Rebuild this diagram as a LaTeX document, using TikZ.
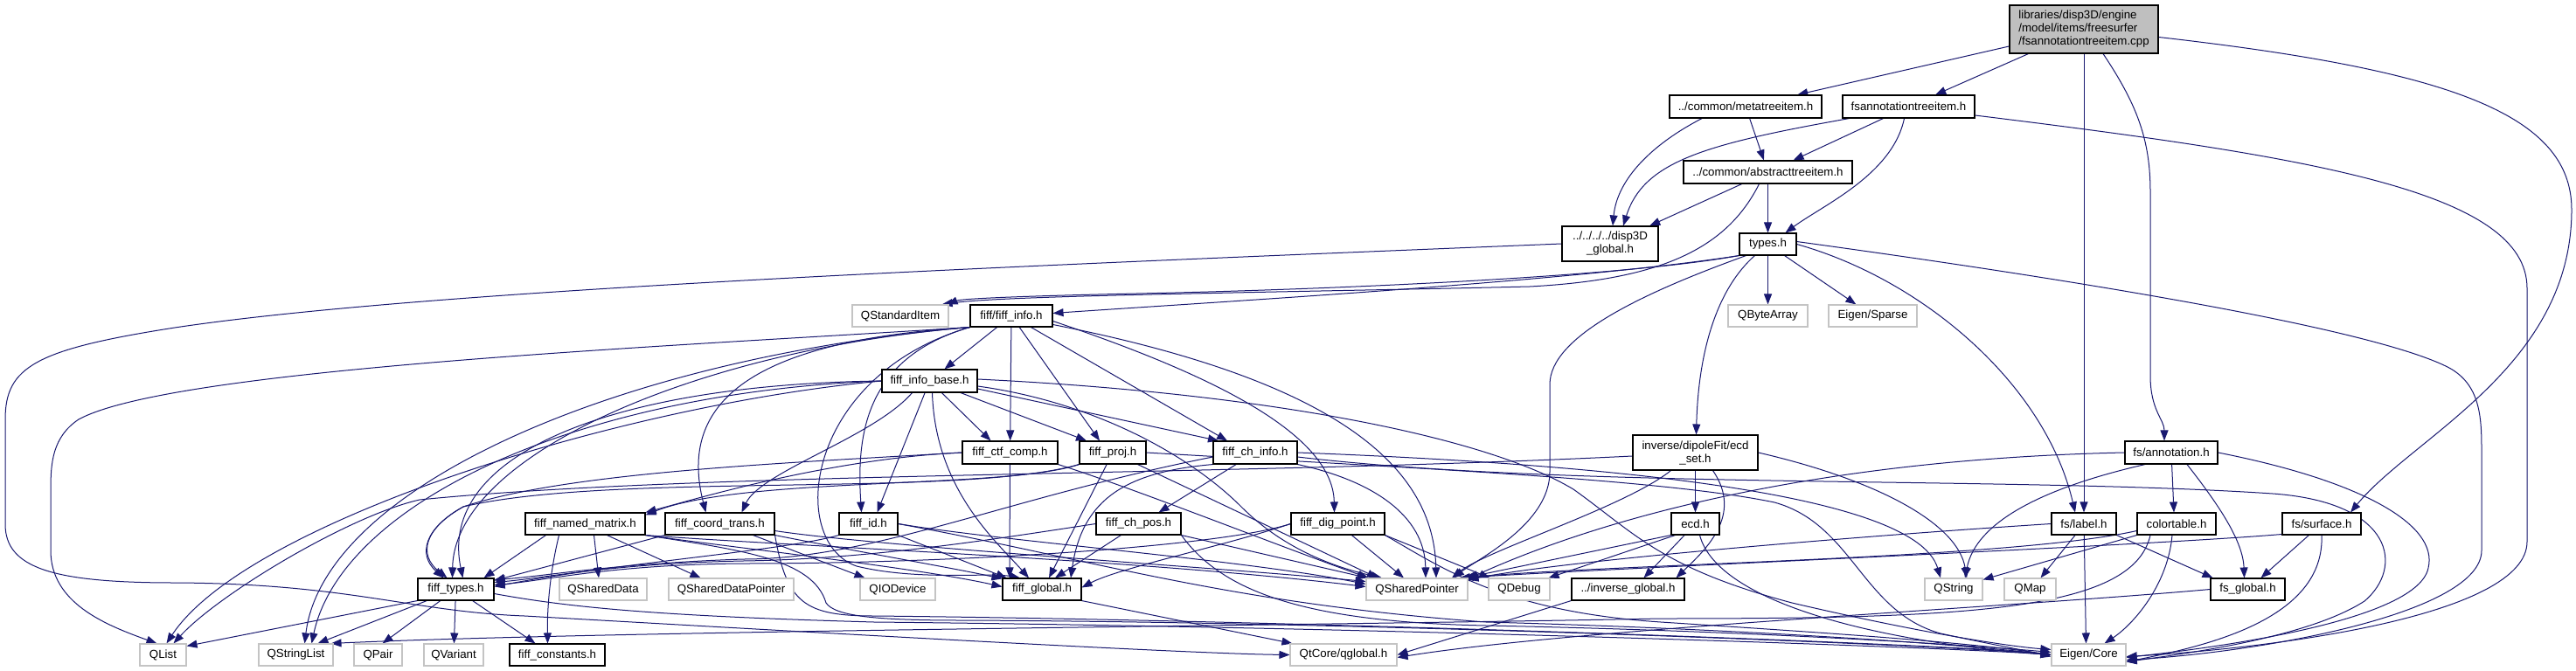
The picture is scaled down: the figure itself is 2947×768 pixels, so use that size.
\documentclass[tikz,border=0pt]{standalone}
\usepackage{fontspec}
\setmainfont{Liberation Sans}
\usetikzlibrary{arrows.meta}
\definecolor{edgeblue}{HTML}{191970}
\definecolor{rootgray}{HTML}{BFBFBF}
\definecolor{extgray}{HTML}{C4C4C4}
\pgfdeclarelayer{bg}
\pgfsetlayers{bg,main}
\newcommand\nfont{\fontsize{13.3}{15}\selectfont}
\newcommand\mkbox[7]{\node[#7, minimum width={#4-#2}, minimum height={#5-#3}] (#1) at ({(#2+#4)/2},{(#3+#5)/2}) {#6};}
\tikzset{
 bx/.style={draw=black, line width=1.1pt, fill=white, inner sep=0pt, font=\nfont, align=center},
 gx/.style={draw=extgray, line width=1.1pt, fill=white, inner sep=0pt, font=\nfont, align=center},
 rx/.style={draw=black, line width=1.1pt, fill=rootgray, inner sep=0pt, font=\nfont, align=left},
 lk/.style={draw=edgeblue, line width=1pt, -{Triangle[length=12pt,width=9pt]}},
}
\begin{document}
\begin{tikzpicture}[x=1pt,y=-1pt]
\useasboundingbox (0,0) rectangle (2947,768);
\begin{pgfonlayer}{bg}
\fill[white] (0,0) rectangle (2947,768);
\end{pgfonlayer}
% ---------- nodes ----------
\mkbox{root}{2299}{6}{2469}{61}{libraries/disp3D/engine\\/model/items/freesurfer\\/fsannotationtreeitem.cpp}{rx}
\mkbox{meta}{1910}{109}{2084}{135}{../common/metatreeitem.h}{bx}
\mkbox{fsat}{2108}{109}{2259}{135}{fsannotationtreeitem.h}{bx}
\mkbox{abst}{1926}{184}{2119}{210}{../common/abstracttreeitem.h}{bx}
\mkbox{d3g}{1787}{259}{1897}{299}{../../../../disp3D\\\_global.h}{bx}
\mkbox{types}{1990}{267}{2055}{292}{types.h}{bx}
\mkbox{qsi}{975}{349}{1085}{374}{QStandardItem}{gx}
\mkbox{finfo}{1110}{349}{1204}{374}{fiff/fiff\_info.h}{bx}
\mkbox{qba}{1977}{349}{2068}{374}{QByteArray}{gx}
\mkbox{esp}{2092}{349}{2193}{374}{Eigen/Sparse}{gx}
\mkbox{fib}{1009}{423}{1118}{449}{fiff\_info\_base.h}{bx}
\mkbox{ctf}{1101}{505}{1210}{531}{fiff\_ctf\_comp.h}{bx}
\mkbox{proj}{1235}{505}{1311}{531}{fiff\_proj.h}{bx}
\mkbox{chi}{1388}{505}{1484}{531}{fiff\_ch\_info.h}{bx}
\mkbox{ecds}{1868}{498}{2011}{538}{inverse/dipoleFit/ecd\\\_set.h}{bx}
\mkbox{fsan}{2431}{505}{2537}{531}{fs/annotation.h}{bx}
\mkbox{fnm}{601}{587}{738}{612}{fiff\_named\_matrix.h}{bx}
\mkbox{fct}{761}{587}{886}{612}{fiff\_coord\_trans.h}{bx}
\mkbox{fid}{960}{587}{1027}{612}{fiff\_id.h}{bx}
\mkbox{chp}{1254}{587}{1351}{612}{fiff\_ch\_pos.h}{bx}
\mkbox{fdp}{1477}{587}{1584}{612}{fiff\_dig\_point.h}{bx}
\mkbox{ecd}{1912}{587}{1967}{612}{ecd.h}{bx}
\mkbox{fsl}{2347}{587}{2421}{612}{fs/label.h}{bx}
\mkbox{ctab}{2445}{587}{2535}{612}{colortable.h}{bx}
\mkbox{fss}{2611}{587}{2701}{612}{fs/surface.h}{bx}
\mkbox{ftyp}{478}{662}{565}{687}{fiff\_types.h}{bx}
\mkbox{qsd}{640}{662}{740}{687}{QSharedData}{gx}
\mkbox{qsdp}{765}{662}{908}{687}{QSharedDataPointer}{gx}
\mkbox{qio}{984}{662}{1070}{687}{QIODevice}{gx}
\mkbox{fglob}{1147}{662}{1237}{687}{fiff\_global.h}{bx}
\mkbox{qsp}{1563}{662}{1679}{687}{QSharedPointer}{gx}
\mkbox{qdbg}{1703}{662}{1773}{687}{QDebug}{gx}
\mkbox{invg}{1798}{662}{1927}{687}{../inverse\_global.h}{bx}
\mkbox{qstr}{2202}{662}{2268}{687}{QString}{gx}
\mkbox{qmap}{2293}{662}{2352}{687}{QMap}{gx}
\mkbox{fsg}{2529}{662}{2614}{687}{fs\_global.h}{bx}
\mkbox{qlist}{160}{737}{213}{762}{QList}{gx}
\mkbox{qsl}{296}{737}{381}{762}{QStringList}{gx}
\mkbox{qpair}{405}{737}{460}{762}{QPair}{gx}
\mkbox{qvar}{485}{737}{553}{762}{QVariant}{gx}
\mkbox{fconst}{583}{737}{692}{762}{fiff\_constants.h}{bx}
\mkbox{qglob}{1476}{737}{1598}{762}{QtCore/qglobal.h}{gx}
\mkbox{eigc}{2347}{737}{2432}{762}{Eigen/Core}{gx}
% ---------- edges ----------
\begin{pgfonlayer}{bg}
% root
\draw[lk] (root) -- (meta);
\draw[lk] (root) -- (fsat);
\draw[lk] (root) -- (fsl);
\draw[lk] ([xshift=22pt]root.south) .. controls (2445,120) and (2460,160) .. (2460,220) -- (2460,430) .. controls (2460,470) and (2476,480) .. ([xshift=-8pt]fsan.north);
\draw[lk] ([yshift=-9pt]root.east) .. controls (2800,80) and (2942,130) .. (2942,240) .. controls (2942,420) and (2760,500) .. ([xshift=33pt]fss.north);
% meta
\draw[lk] ([xshift=-50pt]meta.south) .. controls (1890,165) and (1850,205) .. ([xshift=3pt]d3g.north);
\draw[lk] (meta) -- (abst);
% fsannotationtreeitem.h
\draw[lk] ([xshift=-68pt]fsat.south) .. controls (1950,165) and (1880,185) .. ([xshift=15pt]d3g.north);
\draw[lk] (fsat) -- (abst);
\draw[lk] ([xshift=-5pt]fsat.south) .. controls (2165,200) and (2085,235) .. ([xshift=20pt]types.north);
\draw[lk] ([yshift=-10pt]fsat.east) .. controls (2650,180) and (2891,220) .. (2891,330) -- (2891,620) .. controls (2891,705) and (2600,742) .. ([yshift=-2pt]eigc.east);
% abstracttreeitem
\draw[lk] (abst) -- (d3g);
\draw[lk] (abst) -- (types);
\draw[lk] ([xshift=-10pt]abst.south) .. controls (1975,285) and (1900,320) .. (1750,328) .. controls (1450,335) and (1150,338) .. ([xshift=-8pt]qsi.north east);
% disp3D_global
\draw[lk] (d3g.west) .. controls (1200,303) and (500,330) .. (200,375) .. controls (40,400) and (6,420) .. (6,480) -- (6,600) .. controls (6,650) and (60,667) .. (200,667) .. controls (400,668) and (470,700) .. (600,705) .. controls (900,722) and (1350,748) .. (qglob.west);
% types
\draw[lk] (types.south west) .. controls (1850,318) and (1500,332) .. (1300,336) .. controls (1160,339) and (1100,342) .. ([xshift=-2pt]qsi.north east);
\draw[lk] (types.south west) .. controls (1800,322) and (1400,345) .. ([yshift=3pt]finfo.east);
\draw[lk] (types) -- (qba);
\draw[lk] (types) -- (esp);
\draw[lk] ([xshift=-15pt]types.south) .. controls (1965,330) and (1943,400) .. ([xshift=1pt]ecds.north);
\draw[lk] ([xshift=-25pt]types.south) .. controls (1880,335) and (1773,385) .. (1773,440) -- (1773,540) .. controls (1773,600) and (1690,640) .. ([xshift=42pt]qsp.north);
\draw[lk] (types.east) .. controls (2200,320) and (2340,440) .. ([xshift=-10pt]fsl.north);
\draw[lk] ([yshift=3pt]types.east) .. controls (2300,310) and (2700,370) .. (2800,420) .. controls (2839,440) and (2839,480) .. (2839,520) -- (2839,630) .. controls (2839,700) and (2600,745) .. ([yshift=-6pt]eigc.east);
% fiff_info.h
\draw[lk] (finfo) -- (fib);
\draw[lk] (finfo) -- (ctf);
\draw[lk] (finfo) -- ([xshift=-15pt]proj.north);
\draw[lk] (finfo) -- ([xshift=-32pt]chi.north);
\draw[lk] ([yshift=-6pt]finfo.east) .. controls (1360,420) and (1525,490) .. ([xshift=-4pt]fdp.north);
\draw[lk] ([yshift=-10pt]finfo.east) .. controls (1500,430) and (1640,520) .. ([xshift=22pt]qsp.north);
\draw[lk] (finfo.south west) .. controls (988,410) and (980,500) .. ([xshift=-8pt]fid.north);
\draw[lk] (finfo.south west) .. controls (860,390) and (775,460) .. ([xshift=-16pt]fct.north);
\draw[lk] (finfo.south west) .. controls (800,400) and (520,520) .. ([xshift=-4pt]ftyp.north);
\draw[lk] (finfo.south west) .. controls (700,410) and (370,560) .. ([xshift=10pt]qsl.north);
\draw[lk] (finfo.south west) .. controls (800,395) and (200,420) .. (90,480) .. controls (60,500) and (58,530) .. (58,560) -- (58,630) .. controls (58,690) and (120,715) .. ([xshift=-7pt]qlist.north);
\draw[lk] (finfo.south west) .. controls (920,430) and (900,620) .. (980,648) .. controls (1050,665) and (1130,655) .. ([xshift=-25pt]fglob.north);
% fiff_info_base.h
\draw[lk] (fib) -- ([xshift=-22pt]ctf.north);
\draw[lk] (fib) -- ([xshift=-30pt]proj.north);
\draw[lk] ([yshift=-9pt]fib.east) -- ([xshift=-42pt]chi.north);
\draw[lk] (fib) -- ([xshift=10pt]fid.north);
\draw[lk] ([xshift=-20pt]fib.south) .. controls (1000,500) and (870,540) .. ([xshift=25pt]fct.north);
\draw[lk] ([xshift=3pt]fib.south) .. controls (1070,560) and (1140,620) .. ([xshift=-15pt]fglob.north);
\draw[lk] (fib.west) .. controls (700,440) and (500,520) .. ([xshift=8pt]ftyp.north);
\draw[lk] (fib.west) .. controls (650,450) and (390,580) .. ([xshift=18pt]qsl.north);
\draw[lk] (fib.west) .. controls (700,465) and (280,600) .. ([xshift=4pt]qlist.north);
\draw[lk] ([yshift=-6pt]fib.east) .. controls (1250,460) and (1360,520) .. (1420,580) .. controls (1470,630) and (1530,650) .. ([xshift=-40pt]qsp.north);
\draw[lk] ([yshift=2pt]fib.east) .. controls (1450,450) and (1700,500) .. (1800,560) .. controls (1870,610) and (1900,650) .. (2050,690) .. controls (2200,725) and (2300,740) .. ([yshift=6pt]eigc.west);
% fiff_ctf_comp.h
\draw[lk] (ctf.west) .. controls (950,525) and (800,570) .. (fnm.north east);
\draw[lk] (ctf.west) .. controls (900,530) and (650,540) .. (530,580) .. controls (485,605) and (478,635) .. ([xshift=-14pt]ftyp.north);
\draw[lk] (ctf) -- ([xshift=-37pt]fglob.north);
\draw[lk] (ctf.south east) .. controls (1300,560) and (1450,620) .. ([xshift=3pt]qsp.north west);
% fiff_proj.h
\draw[lk] (proj.south west) .. controls (1150,560) and (850,545) .. ([yshift=-3pt]fnm.north east);
\draw[lk] (proj.south west) .. controls (1100,570) and (700,540) .. (530,580) .. controls (485,605) and (478,635) .. ([xshift=-10pt]ftyp.north);
\draw[lk] (proj) -- ([xshift=8pt]fglob.north);
\draw[lk] (proj) -- ([xshift=-45pt]qsp.north);
\draw[lk] (proj.east) .. controls (1600,535) and (1900,548) .. (2030,575) .. controls (2120,600) and (2130,700) .. (2220,725) .. controls (2280,738) and (2320,745) .. ([yshift=-2pt]eigc.west);
% fiff_ch_info.h
\draw[lk] (chi) -- ([xshift=23pt]chp.north);
\draw[lk] ([yshift=-5pt]chi.west) .. controls (1150,570) and (1000,640) .. (850,640) .. controls (700,645) and (620,660) .. ([yshift=-2pt]ftyp.north east);
\draw[lk] (chi.south west) .. controls (1290,540) and (1238,570) .. ([xshift=33pt]fglob.north);
\draw[lk] (chi.south east) .. controls (1570,550) and (1630,590) .. ([xshift=10pt]qsp.north);
\draw[lk] (chi.east) .. controls (1800,530) and (2190,560) .. ([xshift=-15pt]qstr.north);
\draw[lk] ([yshift=-5pt]chi.east) .. controls (1800,560) and (2300,545) .. (2600,565) .. controls (2740,575) and (2750,650) .. (2705,688) .. controls (2640,730) and (2500,748) .. ([yshift=-8pt]eigc.east);
% fiff_ch_pos.h
\draw[lk] (chp.west) .. controls (1150,615) and (1000,640) .. (850,642) .. controls (700,645) and (620,662) .. ([yshift=-5pt]ftyp.north east);
\draw[lk] (chp) -- ([xshift=15pt]fglob.north);
\draw[lk] (chp.south east) -- ([xshift=2pt]qsp.north west);
\draw[lk] (chp.south east) .. controls (1400,680) and (1500,712) .. (1700,716) .. controls (2000,722) and (2250,738) .. ([yshift=3pt]eigc.west);
% fiff_dig_point.h
\draw[lk] (fdp.west) .. controls (1400,625) and (1100,645) .. (850,645) .. controls (700,646) and (620,665) .. ([yshift=-8pt]ftyp.north east);
\draw[lk] (fdp.west) .. controls (1400,625) and (1280,650) .. ([yshift=2pt]fglob.east);
\draw[lk] (fdp) -- ([xshift=-15pt]qsp.north);
\draw[lk] (fdp.south east) -- ([xshift=2pt]qdbg.north west);
\draw[lk] (fdp.south east) .. controls (1650,650) and (1720,700) .. (1900,712) .. controls (2100,725) and (2250,735) .. (eigc.west);
% fiff_id.h
\draw[lk] (fid.south west) .. controls (900,630) and (700,645) .. ([yshift=-10pt]ftyp.north east);
\draw[lk] (fid.south east) -- ([xshift=5pt]fglob.north west);
\draw[lk] (fid.east) .. controls (1150,620) and (1420,640) .. ([yshift=6pt]qsp.west);
\draw[lk] (fid.east) .. controls (1250,640) and (1400,690) .. (1700,712) .. controls (2000,720) and (2250,738) .. (eigc.west);
% fiff_coord_trans.h
\draw[lk] (fct.south west) -- ([yshift=-3pt]ftyp.north east);
\draw[lk] ([xshift=-25pt]fct.south east) -- ([xshift=6pt]qio.north west);
\draw[lk] (fct.south east) .. controls (1000,635) and (1090,650) .. ([yshift=-1pt]fglob.north west);
\draw[lk] ([yshift=-8pt]fct.east) .. controls (1000,625) and (1400,650) .. ([yshift=9pt]qsp.west);
\draw[lk] (fct.south east) .. controls (900,690) and (920,705) .. (1000,705) .. controls (1500,710) and (2250,738) .. (eigc.west);
% fiff_named_matrix.h
\draw[lk] ([xshift=-45pt]fnm.south) -- ([xshift=32pt]ftyp.north);
\draw[lk] ([xshift=10pt]fnm.south) -- ([xshift=-5pt]qsd.north);
\draw[lk] ([xshift=25pt]fnm.south) -- ([xshift=-35pt]qsdp.north);
\draw[lk] ([xshift=-30pt]fnm.south) .. controls (628,660) and (626,700) .. ([xshift=-11pt]fconst.north);
\draw[lk] (fnm.south east) .. controls (850,628) and (1050,650) .. ([yshift=3pt]fglob.west);
\draw[lk] (fnm.south east) .. controls (900,625) and (1300,640) .. ([yshift=3pt]qsp.west);
\draw[lk] (fnm.south east) .. controls (850,630) and (930,640) .. (945,690) .. controls (955,705) and (1000,710) .. (1100,710) .. controls (1600,712) and (2250,740) .. (eigc.west);
% fiff_types.h
\draw[lk] (ftyp.south west) -- ([yshift=-3pt]qlist.north east);
\draw[lk] (ftyp) -- ([xshift=25pt]qsl.north);
\draw[lk] (ftyp) -- ([xshift=5pt]qpair.north);
\draw[lk] (ftyp) -- (qvar);
\draw[lk] (ftyp) -- ([xshift=-25pt]fconst.north);
\draw[lk] ([yshift=-5pt]ftyp.east) .. controls (650,695) and (750,705) .. (1000,712) .. controls (1600,718) and (2250,742) .. (eigc.west);
% fiff_global.h
\draw[lk] (fglob.south east) -- ([xshift=3pt]qglob.north west);
% ecd_set.h
\draw[lk] (ecds) -- (ecd);
\draw[lk] ([xshift=20pt]ecds.south) .. controls (1995,590) and (1950,630) .. ([xshift=55pt]invg.north);
\draw[lk] ([xshift=-28pt]ecds.south) .. controls (1860,580) and (1700,630) .. ([xshift=40pt]qsp.north);
\draw[lk] (ecds.east) .. controls (2150,550) and (2240,600) .. ([xshift=15pt]qstr.north);
\draw[lk] ([yshift=-4pt]ecds.west) .. controls (1400,545) and (800,540) .. (480,572) .. controls (400,590) and (250,680) .. ([xshift=12pt]qlist.north);
% ecd.h
\draw[lk] (ecd.south west) -- ([xshift=-4pt]qsp.north east);
\draw[lk] ([xshift=5pt]ecd.south west) -- ([xshift=-2pt]qdbg.north east);
\draw[lk] (ecd) -- ([xshift=18pt]invg.north);
\draw[lk] ([xshift=5pt]ecd.south) .. controls (1965,690) and (2150,735) .. (eigc.west);
% inverse_global.h
\draw[lk] (invg.south west) -- (qglob.east);
% fs/annotation.h
\draw[lk] (fsan) -- ([xshift=-3pt]ctab.north);
\draw[lk] ([xshift=18pt]fsan.south) .. controls (2540,580) and (2566,620) .. ([xshift=-4pt]fsg.north);
\draw[lk] (fsan.east) .. controls (2700,550) and (2790,600) .. (2778,650) .. controls (2765,715) and (2500,745) .. ([yshift=-3pt]eigc.east);
\draw[lk] ([xshift=-30pt]fsan.south) .. controls (2330,560) and (2260,600) .. ([xshift=13pt]qstr.north);
\draw[lk] (fsan.west) .. controls (2100,525) and (1850,585) .. ([yshift=-1pt]qsp.north east);
% fs/label.h
\draw[lk] (fsl.west) .. controls (2150,612) and (1800,640) .. ([yshift=-2pt]qsp.north east);
\draw[lk] ([xshift=-10pt]fsl.south) -- ([xshift=12pt]qmap.north);
\draw[lk] (fsl.south east) -- ([xshift=3pt]fsg.north west);
\draw[lk] (fsl) -- ([xshift=-3pt]eigc.north);
% colortable.h
\draw[lk] ([yshift=-8pt]ctab.west) .. controls (2300,640) and (1850,645) .. ([xshift=-6pt]qsp.north east);
\draw[lk] (ctab.south west) -- ([yshift=-2pt]qstr.north east);
\draw[lk] ([xshift=-5pt]ctab.south) .. controls (2480,670) and (2440,715) .. ([xshift=18pt]eigc.north);
\draw[lk] ([xshift=-30pt]ctab.south) .. controls (2440,700) and (2250,708) .. (1900,708) .. controls (1500,716) and (700,722) .. ([xshift=-3pt]qsl.north east);
% fs/surface.h
\draw[lk] (fss) -- ([xshift=15pt]fsg.north);
\draw[lk] (fss.south) .. controls (2660,710) and (2520,740) .. ([yshift=-8pt]eigc.east);
\draw[lk] ([yshift=-12pt]fss.west) .. controls (2450,625) and (1850,650) .. ([xshift=-10pt]qsp.north east);
% fs_global.h
\draw[lk] (fsg.west) .. controls (2300,695) and (1800,720) .. ([yshift=-3pt]qglob.east);
\end{pgfonlayer}
\end{tikzpicture}
\end{document}
